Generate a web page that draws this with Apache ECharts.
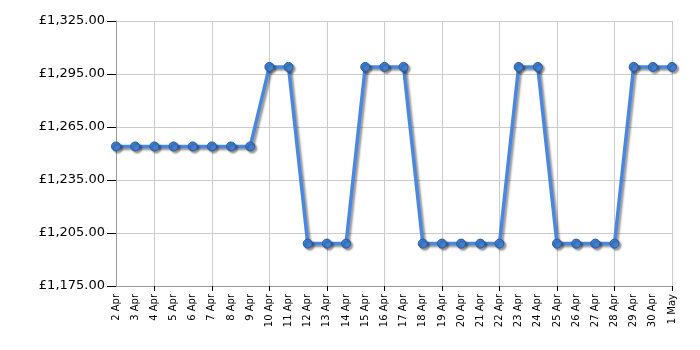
<!DOCTYPE html>
<html>
<head>
<meta charset="utf-8">
<script src="https://cdn.jsdelivr.net/npm/echarts@6/dist/echarts.min.js"></script>
<style>
  html, body { margin: 0; padding: 0; background: #fff; }
  #main { width: 700px; height: 350px; }
</style>
</head>
<body>
<div id="main"></div>
<script>
var dates = ['2 Apr', '3 Apr', '4 Apr', '5 Apr', '6 Apr', '7 Apr', '8 Apr', '9 Apr',
  '10 Apr', '11 Apr', '12 Apr', '13 Apr', '14 Apr', '15 Apr', '16 Apr', '17 Apr',
  '18 Apr', '19 Apr', '20 Apr', '21 Apr', '22 Apr', '23 Apr', '24 Apr', '25 Apr',
  '26 Apr', '27 Apr', '28 Apr', '29 Apr', '30 Apr', '1 May'];
var prices = [1254, 1254, 1254, 1254, 1254, 1254, 1254, 1254,
  1299, 1299, 1199, 1199, 1199, 1299, 1299, 1299,
  1199, 1199, 1199, 1199, 1199, 1299, 1299, 1199,
  1199, 1199, 1199, 1299, 1299, 1299];

var chart = echarts.init(document.getElementById('main'));

function everyThird(i) {
  return (i - 2) % 3 === 0;
}

var option = {
  animation: false,
  grid: { left: 116, right: 28, top: 21, bottom: 64 },
  xAxis: {
    type: 'category',
    data: dates,
    boundaryGap: false,
    axisLine: { lineStyle: { color: '#999', width: 1 } },
    axisTick: { show: true, interval: everyThird, length: 5, lineStyle: { color: '#000' } },
    axisLabel: {
      interval: 0,
      rotate: 90,
      fontFamily: 'DejaVu Sans',
      fontSize: 10,
      color: '#000',
      margin: 8
    },
    splitLine: { show: true, interval: everyThird, lineStyle: { color: '#ccc' } }
  },
  yAxis: {
    type: 'value',
    min: 1175,
    max: 1325,
    interval: 30,
    axisLine: { show: true, lineStyle: { color: '#999' } },
    axisTick: { show: true, length: 9, lineStyle: { color: '#000' } },
    axisLabel: {
      fontFamily: 'DejaVu Sans',
      fontSize: 13,
      color: '#000',
      margin: 11,
      formatter: function (v) {
        return '£' + v.toLocaleString('en-GB', { minimumFractionDigits: 2, maximumFractionDigits: 2 });
      }
    },
    splitLine: { show: true, lineStyle: { color: '#ccc' } }
  },
  series: [{
    type: 'line',
    data: prices,
    symbol: 'circle',
    symbolSize: 9,
    showAllSymbol: true,
    lineStyle: {
      color: '#4a88e0',
      width: 3.5,
      shadowColor: 'rgba(0,0,0,0.4)',
      shadowBlur: 2,
      shadowOffsetX: 2,
      shadowOffsetY: 2
    },
    itemStyle: {
      color: '#4080d4',
      borderColor: '#2a5a9c',
      borderWidth: 1,
      shadowColor: 'rgba(0,0,0,0.4)',
      shadowBlur: 2,
      shadowOffsetX: 2,
      shadowOffsetY: 2
    }
  }]
};

chart.setOption(option);
</script>
</body>
</html>
